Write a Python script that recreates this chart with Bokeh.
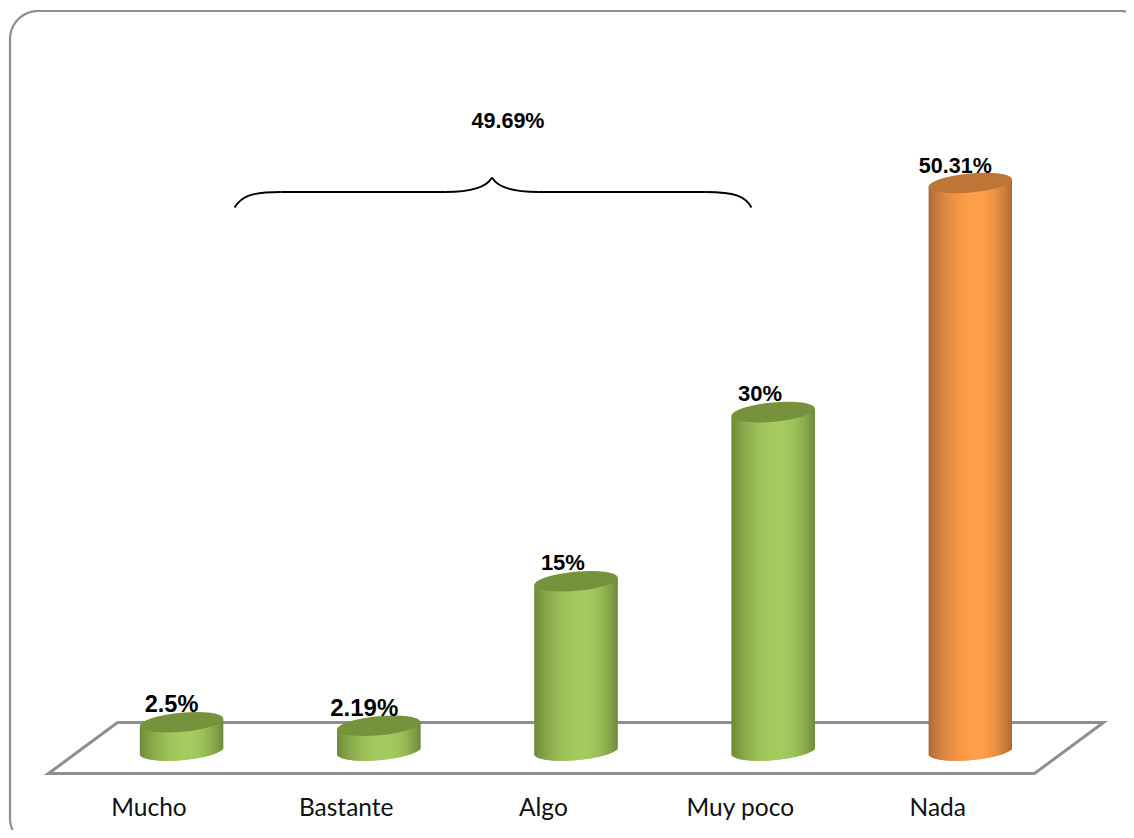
import math
from bokeh.plotting import figure
from bokeh.models import Range1d, LinearAxis, FixedTicker, ColumnDataSource
from bokeh.core.properties import value
from bokeh.embed import file_html
from bokeh.resources import INLINE

# ---- data
categories = ["Mucho", "Bastante", "Algo", "Muy poco", "Nada"]
percent = [2.5, 2.19, 15, 30, 50.31]
percent_labels = ["2.5%", "2.19%", "15%", "30%", "50.31%"]
bar_colour_set = ["green", "green", "green", "green", "orange"]
group_label = "49.69%"

# ---- layout (pixels of the reference picture)
W, H = 1126, 830
PAGE_X0, PAGE_Y0 = 0, 0
STEP = 197.2          # px per category
FIRST_TICK = 148.5    # x of the first category label
DEPTH = 32.5          # bars stand back from their labels
PX_PER_UNIT = 11.28   # px per percentage point
BASE_Y = 750.0        # y of value 0
A, B, TILT = 41.9, 9.6, 0.092  # ellipse half axes and tilt
HALF_W = 41.7

def px(x):
    return (x - FIRST_TICK) / STEP

def py(y):
    return (BASE_Y - y) / PX_PER_UNIT

p = figure(width=W, height=H, output_backend="svg", toolbar_location=None,
           x_range=Range1d(px(PAGE_X0), px(PAGE_X0 + W)),
           y_range=Range1d(py(PAGE_Y0 + H), py(PAGE_Y0)),
           min_border=0, outline_line_color=None, x_axis_type=None, y_axis_type=None)
p.grid.visible = False
p.background_fill_color = "white"
p.border_fill_color = "white"

# rounded frame that runs off the picture at right and bottom
FL, FT, FR, FB, FRAD = 9.5, 10.5, 1148, 846, 28
fx, fy = [], []
def arc(cx, cy, a0, a1):
    for k in range(17):
        a = math.radians(a0 + (a1 - a0) * k / 16)
        fx.append(px(cx + FRAD * math.cos(a)))
        fy.append(py(cy - FRAD * math.sin(a)))
arc(FR - FRAD, FB - FRAD, 0, -90)
arc(FL + FRAD, FB - FRAD, 270, 180)
arc(FL + FRAD, FT + FRAD, 180, 90)
arc(FR - FRAD, FT + FRAD, 90, 0)
fx.append(fx[0]); fy.append(fy[0])
p.line(fx, fy, line_color="#8e8e8e", line_width=2.2)

# floor
p.patch(x=[px(48), px(117), px(1103), px(1034)], y=[py(773), py(722), py(722), py(773)],
        fill_color=None, line_color="#8f8f8f", line_width=3, line_join="miter")

STYLE = {
    "green": dict(edge=(0x6c, 0x87, 0x36), mid=(0xa5, 0xcb, 0x60), top="#76923c"),
    "orange": dict(edge=(0xa8, 0x68, 0x35), mid=(0xff, 0x9f, 0x4a), top="#bd7638"),
}

def shade(style, t):
    peak = 0.58
    k = t / peak if t < peak else (1 - t) / (1 - peak)
    k = math.sin(k * math.pi / 2) ** 0.78
    e, m = STYLE[style]["edge"], STYLE[style]["mid"]
    return "#%02x%02x%02x" % tuple(round(e[i] + (m[i] - e[i]) * k) for i in range(3))

def edge_offsets(dx):
    """mid line and half height of the tilted ellipse at dx (px, y up)"""
    s, c = math.sin(TILT), math.cos(TILT)
    qa = s * s / A ** 2 + c * c / B ** 2
    qb = 2 * dx * s * c * (1 / A ** 2 - 1 / B ** 2)
    qc = dx * dx * (c * c / A ** 2 + s * s / B ** 2) - 1
    return -qb / (2 * qa), math.sqrt(max(qb * qb - 4 * qa * qc, 0)) / (2 * qa)

STRIPS = 84
cols = dict(left=[], right=[], top=[], bottom=[], color=[])
for i, (v, style) in enumerate(zip(percent, bar_colour_set)):
    for j in range(STRIPS):
        d0 = -HALF_W + 2 * HALF_W * j / STRIPS
        d1 = min(d0 + 2.2, HALF_W)
        mid = d0 + HALF_W / STRIPS
        centre, half = edge_offsets(mid)
        cols["left"].append(i + (DEPTH + d0) / STEP)
        cols["right"].append(i + (DEPTH + d1) / STEP)
        cols["top"].append(v + centre / PX_PER_UNIT)
        cols["bottom"].append((centre - half) / PX_PER_UNIT)
        cols["color"].append(shade(style, (j + 0.5) / STRIPS))
p.quad(source=ColumnDataSource(cols), left="left", right="right", top="top", bottom="bottom",
       fill_color="color", line_color=None)

xs = [i + DEPTH / STEP for i in range(len(percent))]
p.ellipse(x=xs, y=percent, width=2 * A, height=2 * B, angle=TILT,
          width_units="screen", height_units="screen",
          fill_color=[STYLE[s]["top"] for s in bar_colour_set], line_color=None)

# value labels
p.text(x=xs, y=percent, text=percent_labels, x_offset=[-10, -14.5, -13, -13, -15],
       y_offset=[-18.5, -18.5, -18.5, -18.5, -17],
       text_align="center", text_baseline="alphabetic", text_color="black",
       text_font=value("Liberation Sans"), text_font_style="bold",
       text_font_size=["23.5px", "24px", "22px", "22px", "21.5px"])

# brace
def bez(a, b, c, d):
    p.bezier(x0=[px(a[0])], y0=[py(a[1])], x1=[px(d[0])], y1=[py(d[1])],
             cx0=[px(b[0])], cy0=[py(b[1])], cx1=[px(c[0])], cy1=[py(c[1])],
             line_color="black", line_width=1.8)

bez((234, 207), (241, 196), (250, 191.5), (280, 191.5))
bez((280, 191.5), (340, 191.5), (400, 191.5), (445, 191.5))
bez((445, 191.5), (470, 191.5), (486, 187), (491.5, 177))
bez((491.5, 177), (497, 187), (512, 191.5), (538, 191.5))
bez((538, 191.5), (590, 191.5), (650, 191.5), (705, 191.5))
bez((705, 191.5), (735, 191.5), (745, 196), (751, 207))

p.text(x=[px(507.5)], y=[py(120)], text=[group_label], text_align="center",
       text_baseline="alphabetic", text_color="black",
       text_font=value("Liberation Sans"), text_font_style="bold", text_font_size="21.5px")

# category axis
axis = LinearAxis(ticker=FixedTicker(ticks=list(range(len(categories)))),
                  major_label_overrides={i: c for i, c in enumerate(categories)},
                  axis_line_color=None, major_tick_line_color=None, minor_tick_line_color=None,
                  major_label_text_font="Lato", major_label_text_font_size="24.5px",
                  major_label_text_color="#111111", major_label_standoff=0,
                  fixed_location=py(785))
p.add_layout(axis, "below")

open("out.html", "w").write(file_html(p, INLINE))
